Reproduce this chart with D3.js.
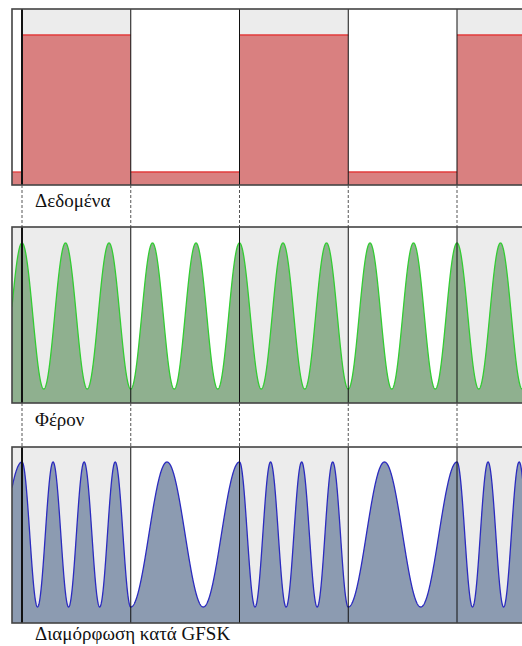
<!DOCTYPE html>
<html>
<head>
<meta charset="utf-8">
<script src="https://cdn.jsdelivr.net/npm/d3@7"></script>
<style>
  body { margin: 0; background: #fff; }
</style>
</head>
<body>
<div id="chart"></div>
<script>
// bit data (first bit is the partial one left of t=0)
const bitStart = [-1, 0, 1, 2, 3, 4];
const bits = [0, 1, 0, 1, 0, 1];
// shaded background in carrier / gfsk panels
const waveShade = [1, 1, 0, 1, 0, 1];
const carrierCycles = 2.5;          // carrier cycles per bit
const gfskCycles = [1.5, 3.5];      // cycles per bit for a 0 / a 1
const labels = ["Δεδομένα", "Φέρον", "Διαμόρφωση κατά GFSK"];

let svgWidth = 522;
let svgHeight = 646;

let svg = d3.select("#chart")
  .append("svg")
  .attr("width", svgWidth)
  .attr("height", svgHeight);

let x = d3.scaleLinear().domain([0, 4]).range([22, 457]);
let tLeft = x.invert(12);
let tRight = x.invert(530);

let panels = [
  { top: 9,   h: 176, padTop: 26, padBot: 13, fill: "#d98080", stroke: "#e23b3b", labelY: 207 },
  { top: 227, h: 176, padTop: 16, padBot: 14, fill: "#8fb08f", stroke: "#33cc33", labelY: 426 },
  { top: 447, h: 176, padTop: 15, padBot: 16, fill: "#8c9bb1", stroke: "#2b2bbf", labelY: 640 }
];
panels.forEach(p => {
  p.y = d3.scaleLinear().domain([-1, 1]).range([p.top + p.h - p.padBot, p.top + p.padTop]);
});

// phase of the gfsk signal (continuous phase)
function gfskPhase(t) {
  if (t < 0) return 2 * Math.PI * gfskCycles[bits[0]] * t;
  let acc = 0;
  for (let i = 1; i < bits.length; i++) {
    let s = bitStart[i];
    let c = gfskCycles[bits[i]];
    if (t >= s + 1 && i < bits.length - 1) {
      acc += 2 * Math.PI * c;
    } else {
      acc += 2 * Math.PI * c * (t - s);
      break;
    }
  }
  return acc;
}

let samples = d3.range(tLeft, tRight, 0.002);

panels.forEach((p, k) => {
  let g = svg.append("g");
  let bottom = p.top + p.h;

  g.append("clipPath").attr("id", "clip" + k)
    .append("rect")
    .attr("x", 12).attr("y", p.top)
    .attr("width", svgWidth).attr("height", p.h);

  let inner = g.append("g").attr("clip-path", `url(#clip${k})`);

  // background shading
  let shade = k === 0 ? bits : waveShade;
  inner.selectAll("rect.bg")
    .data(bitStart)
    .enter()
    .append("rect")
    .attr("class", "bg")
    .attr("x", s => x(Math.max(s, tLeft)))
    .attr("y", p.top)
    .attr("width", s => x(s + 1) - x(Math.max(s, tLeft)))
    .attr("height", p.h)
    .attr("fill", (s, i) => shade[i] ? "#ececec" : "#ffffff");

  if (k === 0) {
    let lvl = b => p.y(b ? 1 : -1);
    inner.selectAll("rect.bit")
      .data(bitStart)
      .enter()
      .append("rect")
      .attr("x", s => x(Math.max(s, tLeft)))
      .attr("y", (s, i) => lvl(bits[i]))
      .attr("width", s => x(s + 1) - x(Math.max(s, tLeft)))
      .attr("height", (s, i) => bottom - lvl(bits[i]))
      .attr("fill", p.fill);
    inner.selectAll("line.lvl")
      .data(bitStart)
      .enter()
      .append("line")
      .attr("x1", s => x(Math.max(s, tLeft)))
      .attr("x2", s => x(s + 1))
      .attr("y1", (s, i) => lvl(bits[i]))
      .attr("y2", (s, i) => lvl(bits[i]))
      .attr("stroke", p.stroke)
      .attr("stroke-width", 1.3);
  } else {
    let val = k === 1
      ? (t => Math.cos(2 * Math.PI * carrierCycles * t))
      : (t => Math.cos(gfskPhase(t)));
    let area = d3.area()
      .x(t => x(t))
      .y0(bottom)
      .y1(t => p.y(val(t)));
    let line = d3.line()
      .x(t => x(t))
      .y(t => p.y(val(t)));
    inner.append("path")
      .datum(samples)
      .attr("d", area)
      .attr("fill", p.fill);
    inner.append("path")
      .datum(samples)
      .attr("d", line)
      .attr("fill", "none")
      .attr("stroke", p.stroke)
      .attr("stroke-width", 1.3);
  }

  // bit boundaries
  inner.selectAll("line.bd")
    .data(d3.range(0, 5))
    .enter()
    .append("line")
    .attr("x1", t => x(t)).attr("x2", t => x(t))
    .attr("y1", p.top).attr("y2", bottom)
    .attr("stroke", "#111")
    .attr("stroke-width", t => t === 0 ? 2 : 1);

  // frame
  g.append("rect")
    .attr("x", 12).attr("y", p.top)
    .attr("width", svgWidth).attr("height", p.h)
    .attr("fill", "none")
    .attr("stroke", "#444")
    .attr("stroke-width", 1.6);

  g.append("text")
    .attr("x", 35)
    .attr("y", p.labelY)
    .attr("font-family", "'Liberation Serif', 'DejaVu Serif', 'Times New Roman', serif")
    .attr("font-size", 19)
    .attr("fill", "#111")
    .text(labels[k]);

  // dashed guides to next panel
  if (k < panels.length - 1) {
    let next = panels[k + 1];
    svg.selectAll(null)
      .data(d3.range(0, 5))
      .enter()
      .append("line")
      .attr("x1", t => x(t)).attr("x2", t => x(t))
      .attr("y1", bottom).attr("y2", next.top)
      .attr("stroke", "#555")
      .attr("stroke-width", 1)
      .attr("stroke-dasharray", "3,2");
  }
});
</script>
</body>
</html>
